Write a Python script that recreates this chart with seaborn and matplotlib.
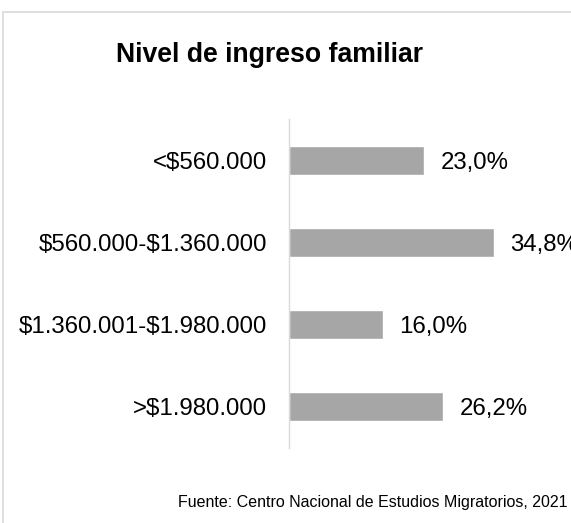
import matplotlib
matplotlib.use("Agg")
import matplotlib.pyplot as plt
import seaborn as sns
import pandas as pd
from matplotlib.patches import Rectangle

categorias = ["<$560.000", "$560.000-$1.360.000", "$1.360.001-$1.980.000", ">$1.980.000"]
porcentajes = [23.0, 34.8, 16.0, 26.2]

df = pd.DataFrame({"nivel": categorias, "pct": porcentajes})

sns.set_theme(style="white")
plt.rcParams["font.family"] = ["Liberation Sans", "DejaVu Sans"]
plt.rcParams["text.parse_math"] = False

fig = plt.figure(figsize=(5.71, 5.23), dpi=100)
ax = fig.add_axes([289 / 571, 75 / 523, 282 / 571, 329 / 523])

sns.barplot(data=df, y="nivel", x="pct", orient="h", color="#a6a6a6",
            saturation=1, width=0.35, ax=ax)

ax.set_xlim(0, 282 / 5.89)
ax.set_ylim(3.5, -0.5)
ax.set_xlabel("")
ax.set_ylabel("")
ax.set_xticks([])
ax.tick_params(axis="y", length=0, pad=15.5, labelsize=17.3, labelcolor="black")
for s in ["top", "right", "bottom"]:
    ax.spines[s].set_visible(False)
ax.spines["left"].set_color("#d9d9d9")
ax.spines["left"].set_linewidth(1)

etiquetas = [f"{v:.1f}".replace(".", ",") + "%" for v in porcentajes]
textos = ax.bar_label(ax.containers[0], labels=etiquetas, padding=11.5, fontsize=17.3,
                      color="black")
for t in textos:
    t.set_va("center_baseline")

# borde del area del grafico
fig.add_artist(Rectangle((3 / 571, -0.1), 1.2, 1 - 12 / 523 + 0.1, transform=fig.transFigure,
                         fill=False, edgecolor="#d9d9d9", linewidth=1.2, clip_on=False))

fig.text(269 / 571, 1 - 55 / 523, "Nivel de ingreso familiar", ha="center", va="center",
         fontsize=19.2, fontweight="bold", color="black")
fig.text(567 / 571, 1 - 503 / 523, "Fuente: Centro Nacional de Estudios Migratorios, 2021",
         ha="right", va="center", fontsize=11.5, color="black")

fig.savefig("out.png", dpi=100)
